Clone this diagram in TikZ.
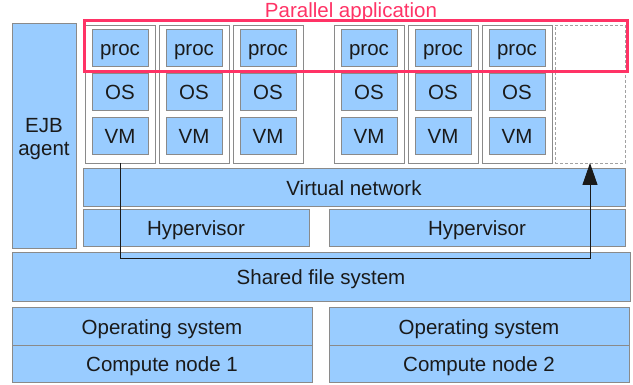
\documentclass[tikz,border=0pt]{standalone}
\usepackage{fontspec}
\setmainfont{Liberation Sans}
\usetikzlibrary{arrows.meta}
\definecolor{boxblue}{HTML}{99CCFF}
\definecolor{boxline}{HTML}{8A8A8A}
\definecolor{appred}{HTML}{FF3366}
\definecolor{txt}{HTML}{1A1A1A}
\tikzset{
  lbl/.style={font=\fontsize{20.5}{23}\selectfont, text height=14.7pt, text depth=0pt},
  blk/.style={lbl, draw=boxline, fill=boxblue, line width=1pt, inner sep=0pt, outer sep=0pt,
    text=txt, align=center},
  grp/.style={draw=boxline, fill=white, line width=0.9pt, inner sep=0pt, outer sep=0pt,
    minimum width=70pt, minimum height=138pt},
  emptygrp/.style={grp, draw=boxline!80, dashed, dash pattern=on 3pt off 2pt},
  inner/.style={blk, minimum width=56pt, minimum height=37pt},
  conn/.style={draw=txt, line width=1pt},
}
\begin{document}
\begin{tikzpicture}[x=1pt, y=-1pt]
\useasboundingbox (0,0) rectangle (633,385);
% EJB agent
\node[blk, text height=37.2pt, text depth=0pt, minimum width=64pt, minimum height=225pt] (ejb) at (44,136.5) {EJB\\agent};
% VM groups
\foreach \i/\x in {1/120, 2/194, 3/268, 4/369, 5/443, 6/517} {
  \node[grp] (g\i) at (\x,94) {};
  \node[inner] (p\i) at (\x,48.5) {proc};
  \node[inner] (o\i) at (\x,92.5) {OS};
  \node[inner] (v\i) at (\x,136.5) {VM};
}
\node[emptygrp] (g7) at (590,94) {};
% parallel application frame
\node[draw=appred, line width=3pt, minimum width=543pt, minimum height=51pt, inner sep=0pt] (app) at (355.5,46.5) {};
\node[lbl, text=appred, inner sep=0pt] (applbl) at (351,10) {Parallel application};
% infrastructure layers
\node[blk, minimum width=542pt, minimum height=38pt] (vnet) at (354,188) {Virtual network};
\node[blk, minimum width=226pt, minimum height=37pt] (hyp1) at (196,228.5) {Hypervisor};
\node[blk, minimum width=296pt, minimum height=37pt] (hyp2) at (477,228.5) {Hypervisor};
\node[blk, minimum width=618pt, minimum height=49pt] (sfs) at (321,277.5) {Shared file system};
\node[blk, minimum width=300pt, minimum height=38pt] (os1) at (162,327) {Operating system};
\node[blk, minimum width=300pt, minimum height=37pt] (cn1) at (162,364.5) {Compute node 1};
\node[blk, minimum width=300pt, minimum height=38pt] (os2) at (479,327) {Operating system};
\node[blk, minimum width=300pt, minimum height=37pt] (cn2) at (479,364.5) {Compute node 2};
% migration connector
\coordinate (turn) at (0,259);
\draw[conn, -{Triangle[length=22pt, width=15pt]}]
  (g1.south) -- (g1.south |- turn) -- (g7.south |- turn) -- (g7.south);
\end{tikzpicture}
\end{document}
